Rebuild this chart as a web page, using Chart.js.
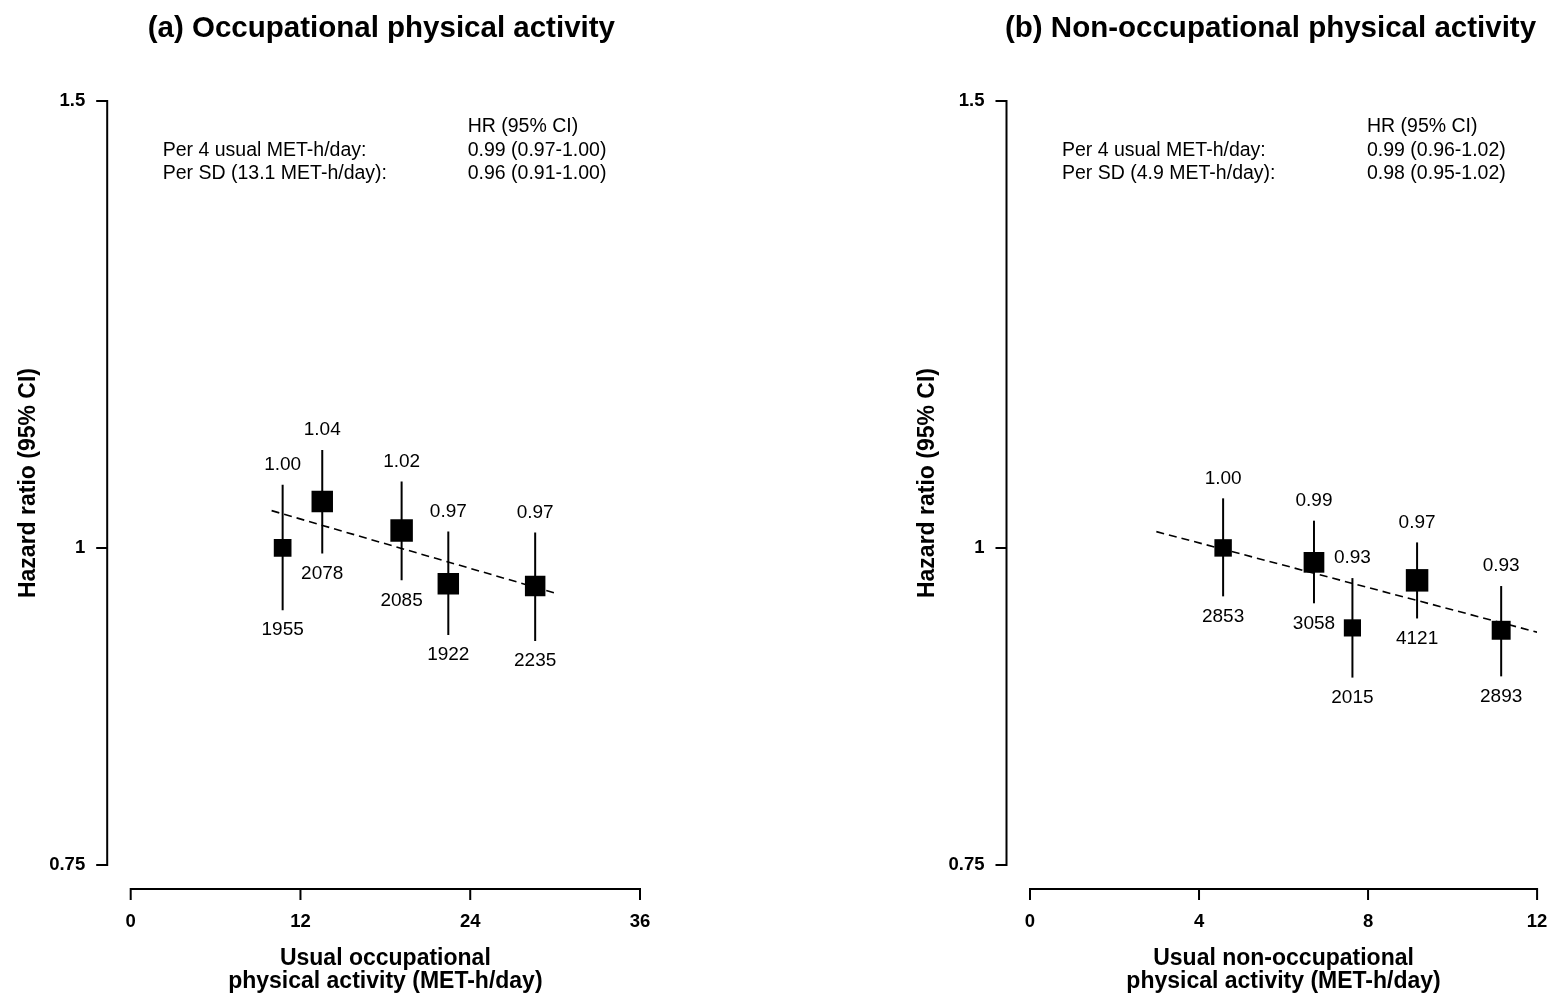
<!DOCTYPE html>
<html><head><meta charset="utf-8">
<script src="https://cdn.jsdelivr.net/npm/chart.js@4.4.0/dist/chart.umd.min.js"></script>
<style>
html,body{margin:0;padding:0;background:#fff;}
#wrap{position:relative;width:1553px;height:994px;overflow:hidden;}
canvas{position:absolute;top:0;}
</style></head><body>
<div id="wrap"><canvas id="ca" width="776" height="994" style="left:0px"></canvas><canvas id="cb" width="777" height="994" style="left:776px"></canvas></div>
<script>
// ---------- shared ----------
const yTicks = [0.75, 1, 1.5];
const yTickLabels = ['0.75', '1', '1.5'];
const yTitle = 'Hazard ratio (95% CI)';
const annotHeader = 'HR (95% CI)';

// ---------- panel (a) occupational ----------
const occTitle = '(a) Occupational physical activity';
const occXTitle = ['Usual occupational', 'physical activity (MET-h/day)'];
const occXTicks = [0, 12, 24, 36];
const occX  = [10.74, 13.54, 19.15, 22.45, 28.59];
const occHR = [1.00, 1.043, 1.016, 0.968, 0.966];
const occLo = [0.945, 0.995, 0.971, 0.924, 0.919];
const occHi = [1.059, 1.093, 1.062, 1.015, 1.014];
const occHRLabels = ['1.00', '1.04', '1.02', '0.97', '0.97'];
const occN = ['1955', '2078', '2085', '1922', '2235'];
const occTrendX = [9.96, 30.05];
const occTrendY = [1.0344, 0.9597];
const occAnnotRows = ['Per 4 usual MET-h/day:', 'Per SD (13.1 MET-h/day):'];
const occAnnotVals = ['0.99 (0.97-1.00)', '0.96 (0.91-1.00)'];

// ---------- panel (b) non-occupational ----------
const nonTitle = '(b) Non-occupational physical activity';
const nonXTitle = ['Usual non-occupational', 'physical activity (MET-h/day)'];
const nonXTicks = [0, 4, 8, 12];
const nonX  = [4.57, 6.72, 7.63, 9.16, 11.15];
const nonHR = [1.00, 0.987, 0.930, 0.971, 0.928];
const nonLo = [0.957, 0.951, 0.889, 0.938, 0.890];
const nonHi = [1.046, 1.025, 0.973, 1.005, 0.966];
const nonHRLabels = ['1.00', '0.99', '0.93', '0.97', '0.93'];
const nonN = ['2853', '3058', '2015', '4121', '2893'];
const nonTrendX = [2.99, 12.0];
const nonTrendY = [1.0149, 0.9264];
const nonAnnotRows = ['Per 4 usual MET-h/day:', 'Per SD (4.9 MET-h/day):'];
const nonAnnotVals = ['0.99 (0.96-1.02)', '0.98 (0.95-1.02)'];

const FONT = '"Liberation Sans", Arial, Helvetica, sans-serif';

const rPlugin = {
  id: 'rAxes',
  afterDraw(chart) {
    const p = chart.options.plugins.rAxes;
    const ctx = chart.ctx, xs = chart.scales.x, ys = chart.scales.y, ca = chart.chartArea;
    ctx.save();
    ctx.strokeStyle = '#000'; ctx.fillStyle = '#000'; ctx.lineWidth = 2;
    // y axis
    const ax = ca.left - 23.5;
    const yTop = ys.getPixelForValue(p.yTicks[p.yTicks.length - 1]);
    const yBot = ys.getPixelForValue(p.yTicks[0]);
    ctx.beginPath();
    ctx.moveTo(ax, yTop - 1); ctx.lineTo(ax, yBot + 1);
    p.yTicks.forEach(v => { const y = ys.getPixelForValue(v); ctx.moveTo(ax + 1, y); ctx.lineTo(ax - 11, y); });
    ctx.stroke();
    ctx.font = 'bold 18.5px ' + FONT; ctx.textAlign = 'right'; ctx.textBaseline = 'middle';
    p.yTicks.forEach((v, i) => ctx.fillText(p.yTickLabels[i], ax - 22, ys.getPixelForValue(v)));
    // x axis
    const ay = ca.bottom + 24;
    const xL = xs.getPixelForValue(p.xTicks[0]);
    const xR = xs.getPixelForValue(p.xTicks[p.xTicks.length - 1]);
    ctx.beginPath();
    ctx.moveTo(xL - 1, ay); ctx.lineTo(xR + 1, ay);
    p.xTicks.forEach(v => { const x = xs.getPixelForValue(v); ctx.moveTo(x, ay - 1); ctx.lineTo(x, ay + 11); });
    ctx.stroke();
    ctx.textAlign = 'center';
    p.xTicks.forEach(v => ctx.fillText(String(v), xs.getPixelForValue(v), ay + 33));
    // x title
    ctx.font = 'bold 23px ' + FONT; ctx.textBaseline = 'alphabetic';
    const xc = (xL + xR) / 2;
    ctx.fillText(p.xTitle[0], xc, 965);
    ctx.fillText(p.xTitle[1], xc, 988);
    // panel title
    ctx.font = 'bold 29.5px ' + FONT; ctx.textBaseline = 'middle';
    ctx.fillText(p.title, xc + p.titleShift, 29);
    // y title
    ctx.save();
    ctx.translate(ax - 79, (yTop + yBot) / 2);
    ctx.rotate(-Math.PI / 2);
    ctx.font = 'bold 23px ' + FONT; ctx.textAlign = 'center'; ctx.textBaseline = 'middle';
    ctx.fillText(p.yTitle, 0, 0);
    ctx.restore();
    // annotation
    ctx.font = '19.5px ' + FONT; ctx.textAlign = 'left'; ctx.textBaseline = 'middle';
    const c1 = ca.left + 32, c2 = ca.left + 337;
    ctx.fillText(p.annotHeader, c2, 127);
    p.annotRows.forEach((t, i) => ctx.fillText(t, c1, 150.5 + i * 23.5));
    p.annotVals.forEach((t, i) => ctx.fillText(t, c2, 150.5 + i * 23.5));
    // data labels
    ctx.font = '19px ' + FONT; ctx.textAlign = 'center';
    p.x.forEach((x, i) => {
      const px = xs.getPixelForValue(x);
      ctx.fillText(p.hrLabels[i], px, ys.getPixelForValue(p.hi[i]) - 20);
      ctx.fillText(p.n[i], px, ys.getPixelForValue(p.lo[i]) + 20);
    });
    ctx.restore();
  }
};

function makePanel(canvasId, pad, xMax, titleShift, d) {
  const widths = d.lo.map((l, i) => Math.log(d.hi[i] / l));
  const minW = Math.min(...widths);
  const radii = widths.map(w => (22.5 * minW / w) / (2 * Math.SQRT1_2));
  const datasets = [];
  datasets.push({
    type: 'scatter',
    data: d.x.map((x, i) => ({ x: x, y: d.hr[i] })),
    pointStyle: 'rect', pointRadius: radii, pointHoverRadius: radii,
    backgroundColor: '#000', borderColor: '#000', borderWidth: 0, showLine: false
  });
  d.x.forEach((x, i) => datasets.push({
    type: 'line',
    data: [{ x: x, y: d.lo[i] }, { x: x, y: d.hi[i] }],
    borderColor: '#000', borderWidth: 2, pointRadius: 0, fill: false
  }));
  datasets.push({
    type: 'line',
    data: d.trendX.map((x, i) => ({ x: x, y: d.trendY[i] })),
    borderColor: '#000', borderWidth: 1.6, borderDash: [8, 5], pointRadius: 0, fill: false
  });
  return new Chart(document.getElementById(canvasId), {
    type: 'scatter',
    data: { datasets },
    options: {
      responsive: false, animation: false, events: [],
      layout: { padding: pad },
      scales: {
        x: { type: 'linear', min: 0, max: xMax, display: false },
        y: { type: 'logarithmic', min: 0.75, max: 1.5, display: false }
      },
      plugins: {
        legend: { display: false }, tooltip: { enabled: false },
        rAxes: {
          yTicks: yTicks, yTickLabels: yTickLabels, yTitle: yTitle, annotHeader: annotHeader,
          xTicks: d.xTicks, xTitle: d.xTitle, title: d.title, titleShift: titleShift,
          annotRows: d.annotRows, annotVals: d.annotVals,
          x: d.x, lo: d.lo, hi: d.hi, hrLabels: d.hrLabels, n: d.n
        }
      }
    },
    plugins: [rPlugin]
  });
}

makePanel('ca', { left: 130.7, right: 776 - 640, top: 101, bottom: 994 - 865 }, 36, -4, {
  x: occX, hr: occHR, lo: occLo, hi: occHi, hrLabels: occHRLabels, n: occN,
  trendX: occTrendX, trendY: occTrendY, xTicks: occXTicks, xTitle: occXTitle, title: occTitle,
  annotRows: occAnnotRows, annotVals: occAnnotVals
});
makePanel('cb', { left: 1030 - 776, right: 777 - (1539 - 776), top: 101, bottom: 994 - 865 }, 12, -13, {
  x: nonX, hr: nonHR, lo: nonLo, hi: nonHi, hrLabels: nonHRLabels, n: nonN,
  trendX: nonTrendX, trendY: nonTrendY, xTicks: nonXTicks, xTitle: nonXTitle, title: nonTitle,
  annotRows: nonAnnotRows, annotVals: nonAnnotVals
});
</script>
</body></html>
